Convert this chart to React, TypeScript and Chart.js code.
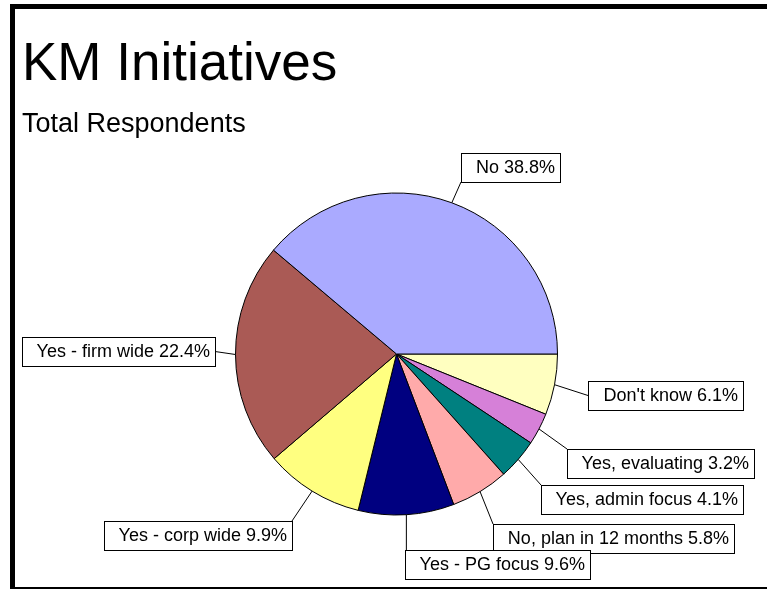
import React, { useEffect, useRef } from "react";
import { Chart, registerables } from "chart.js";

Chart.register(...registerables);

// Data (clockwise order starting at 3 o'clock)
const categories = [
  "Don't know",
  "Yes, evaluating",
  "Yes, admin focus",
  "No, plan in 12 months",
  "Yes - PG focus",
  "Yes - corp wide",
  "Yes - firm wide",
  "No",
];
const percentages = [6.1, 3.2, 4.1, 5.8, 9.6, 9.9, 22.4, 38.8];
const sliceColors = [
  "#FFFFC0",
  "#D680D8",
  "#008080",
  "#FFAAAA",
  "#000080",
  "#FFFF80",
  "#AA5A55",
  "#AAAAFF",
];
const titleText = "KM Initiatives";
const subtitleText = "Total Respondents";

// Layout: label box top-left offsets relative to pie centre
const labelOffsetX = [191, 170, 144, 96, 8, -293, -375, 64];
const labelOffsetY = [27, 95, 131, 170, 196, 167, -17, -201];

const FONT = '"Liberation Sans", Arial, sans-serif';

const framePlugin = {
  id: "frame",
  beforeDraw(chart: any) {
    const ctx = chart.ctx;
    const W = chart.width;
    const H = chart.height;
    ctx.save();
    ctx.fillStyle = "#ffffff";
    ctx.fillRect(0, 0, W, H);
    ctx.fillStyle = "#000000";
    ctx.fillRect(10, 4, 5, H - 5);
    ctx.fillRect(10, 4, W - 10, 5);
    ctx.fillRect(10, 587, W - 10, 2);
    ctx.textAlign = "left";
    ctx.textBaseline = "alphabetic";
    ctx.font = `53px ${FONT}`;
    ctx.fillText(titleText, 22, 80);
    ctx.font = `27px ${FONT}`;
    ctx.fillText(subtitleText, 22, 132);
    ctx.restore();
  },
};

const labelPlugin = {
  id: "boxLabels",
  afterDatasetsDraw(chart: any) {
    const ctx = chart.ctx;
    const meta = chart.getDatasetMeta(0);
    const values = chart.data.datasets[0].data as number[];
    const labels = chart.data.labels as string[];
    ctx.save();
    ctx.font = `18px ${FONT}`;
    meta.data.forEach((arc: any, i: number) => {
      const { x, y, startAngle, endAngle, outerRadius } = arc.getProps(
        ["x", "y", "startAngle", "endAngle", "outerRadius"],
        true
      );
      const mid = (startAngle + endAngle) / 2;
      const ax = x + Math.cos(mid) * outerRadius;
      const ay = y + Math.sin(mid) * outerRadius;
      const text = `${labels[i]} ${values[i].toFixed(1)}%`;
      const tw = ctx.measureText(text).width;
      const w = Math.round(tw + 20);
      const h = 29;
      const left = Math.round(x + labelOffsetX[i]);
      const top = Math.round(y + labelOffsetY[i]);
      const right = left + w;
      const bottom = top + h;
      let px = Math.min(Math.max(ax, left), right);
      let py = Math.min(Math.max(ay, top), bottom);
      if ((ax < left || ax > right) && ay >= top && ay <= bottom) {
        py = top + h / 2;
      }
      ctx.strokeStyle = "#000000";
      ctx.lineWidth = 1;
      ctx.beginPath();
      ctx.moveTo(ax, ay);
      ctx.lineTo(px, py);
      ctx.stroke();
      ctx.fillStyle = "#ffffff";
      ctx.fillRect(left, top, w, h);
      ctx.strokeRect(left + 0.5, top + 0.5, w, h);
      ctx.fillStyle = "#000000";
      ctx.textAlign = "right";
      ctx.textBaseline = "middle";
      ctx.fillText(text, right - 5, top + h / 2 + 1);
    });
    ctx.restore();
  },
};

export default function App() {
  const ref = useRef<HTMLCanvasElement>(null);
  useEffect(() => {
    if (!ref.current) return;
    const chart = new Chart(ref.current, {
      type: "pie",
      data: {
        labels: categories,
        datasets: [
          {
            data: percentages,
            backgroundColor: sliceColors,
            borderColor: "#000000",
            borderWidth: 1,
          },
        ],
      },
      options: {
        animation: false,
        responsive: false,
        devicePixelRatio: 1,
        rotation: 90,
        layout: { padding: { left: 235, right: 209, top: 192, bottom: 74 } },
        plugins: {
          legend: { display: false },
          tooltip: { enabled: false },
          title: { display: false },
        },
      },
      plugins: [framePlugin, labelPlugin],
    });
    return () => chart.destroy();
  }, []);
  return (
    <div style={{ position: "fixed", left: 0, top: 0, width: 767, height: 590 }}>
      <canvas ref={ref} width={767} height={590} style={{ width: 767, height: 590 }} />
    </div>
  );
}
